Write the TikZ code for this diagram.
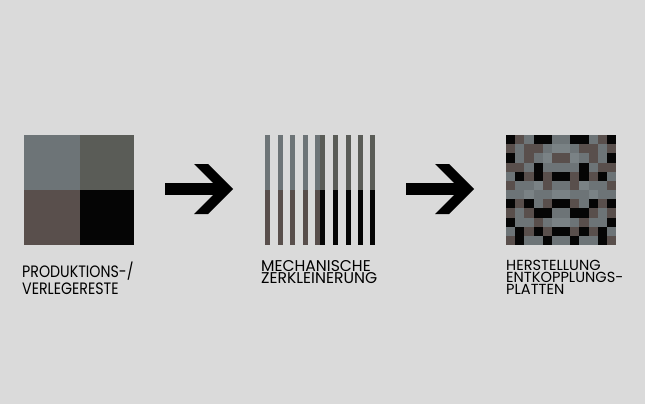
\documentclass[tikz,border=0pt]{standalone}
\usepackage{fontspec}
\usepackage{graphicx}
\setmainfont{Poppins}
\definecolor{bgc}{HTML}{DADADA}
\definecolor{colG}{HTML}{6D7477}
\definecolor{colL}{HTML}{7A8285}
\definecolor{colB}{HTML}{594F4C}
\definecolor{colK}{HTML}{050505}
\definecolor{colD}{HTML}{5A5C57}
\tikzset{
  arrowshape/.style={fill=black, draw=none},
  labeltext/.style={anchor=north west, inner sep=0pt, align=left, text=black},
  squarebox/.style={minimum width=110pt, minimum height=110pt, inner sep=0pt, draw=none, anchor=north west}
}
\begin{document}
\begin{tikzpicture}[x=1pt,y=-1pt]
\fill[bgc] (0,0) rectangle (645,404);
\useasboundingbox (0,0) rectangle (645,404);
% square 1
\node[squarebox] (sq1) at (24,135) {};
\fill[colG] (24,135) rectangle (79.5,190);
\fill[colD] (79.5,135) rectangle (134,190);
\fill[colB] (24,190) rectangle (79.5,245);
\fill[colK] (79.5,190) rectangle (134,245);
% square 2 stripes
\node[squarebox] (sq2) at (265,135) {};
\foreach \xa/\xb in {265/270,277.5/282.5,290/295,303/308,315/320}{
  \fill[colG] (\xa,135) rectangle (\xb,190);
  \fill[colB] (\xa,190) rectangle (\xb,245);
}
\foreach \xa/\xb in {320/325,333/338,345.5/350.5,358/363,370/375}{
  \fill[colD] (\xa,135) rectangle (\xb,190);
  \fill[colK] (\xa,190) rectangle (\xb,245);
}
% square 3 mosaic
\node[squarebox] (sq3) at (506,135) {};
\def\cs{9.1667}
\foreach \row [count=\r from 0] in {
  {K,B,G,K,K,G,G,K,K,G,B,K},
  {B,G,B,B,G,L,L,G,B,B,G,B},
  {K,G,B,G,L,B,B,L,G,B,G,K},
  {B,B,G,K,G,G,G,G,K,G,B,B},
  {G,K,B,K,B,K,K,B,K,B,K,G},
  {B,G,G,L,B,G,G,B,L,G,G,B},
  {G,G,L,G,G,L,L,G,G,L,G,G},
  {K,B,K,G,B,K,K,B,G,K,B,K},
  {B,G,B,K,K,G,G,K,K,B,G,B},
  {K,G,G,B,G,L,L,G,B,G,G,K},
  {G,K,B,K,B,K,K,B,K,B,K,G},
  {B,K,G,G,K,G,G,K,G,G,K,B}}{
  \foreach \c [count=\i from 0] in \row {
    \fill[col\c] ({506+\i*\cs},{135+\r*\cs}) rectangle ({506+(\i+1)*\cs+0.2},{135+(\r+1)*\cs+0.2});
  }
}
% arrows
\foreach \dx in {0,241}{
  \begin{scope}[xshift=\dx]
    \fill[arrowshape] (165,183) rectangle (222,195);
    \fill[arrowshape] (194,164) -- (208,164) -- (233,189) -- (208,214) -- (194,214) -- (219,189) -- cycle;
  \end{scope}
}
% labels
\node[labeltext, font=\fontsize{16.5}{17}\selectfont] (lab1) at (22,261.5) {\scalebox{0.86}[1]{\begin{tabular}{@{}l@{}}PRODUKTIONS-/\\VERLEGERESTE\end{tabular}}};
\node[labeltext, font=\fontsize{15.6}{12.5}\selectfont] (lab2) at (261,260) {MECHANISCHE\\ZERKLEINERUNG};
\node[labeltext, font=\fontsize{14.6}{12}\selectfont] (lab3) at (506,260) {HERSTELLUNG\\ENTKOPPLUNGS-\\PLATTEN};
\end{tikzpicture}
\end{document}
